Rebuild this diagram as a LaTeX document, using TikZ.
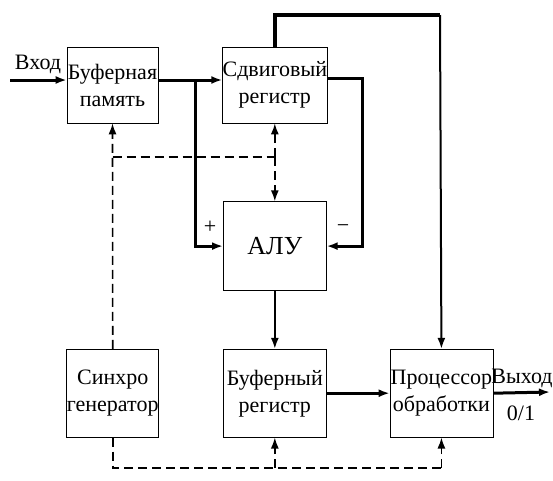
\documentclass[tikz,border=0pt]{standalone}
\usepackage{fontspec}
\setmainfont{Liberation Serif}
\usetikzlibrary{positioning,arrows.meta}

\begin{document}
\begin{tikzpicture}[x=1pt, y=-1pt,
    node distance=64pt,
    block/.style={rectangle, draw, semithick, minimum width=103pt, minimum height=88pt,
                  align=center, inner sep=0pt, font=\fontsize{22}{27}\selectfont},
    lbl/.style={font=\fontsize{22}{26}\selectfont, inner sep=0pt},
    bus/.style={->, line width=3pt},
    wire/.style={->, line width=2pt},
    sync/.style={->, line width=1.6pt, dash pattern=on 9pt off 5pt},
    syncline/.style={line width=1.6pt, dash pattern=on 9pt off 5pt},
    >={Latex[length=11pt,width=8pt]}
]
    \useasboundingbox (0,0) rectangle (553,480);

    \node[block, minimum width=91pt, minimum height=76pt] (bufmem) at (112.5,85) {Буферная\\память};
    \node[block, minimum height=76pt, right=64pt of bufmem] (shift) {Сдвиговый\\регистр};
    \node[block, minimum height=89pt, below=78pt of shift,
          font=\fontsize{26}{30}\selectfont] (alu) {АЛУ};
    \node[block, below=58pt of alu] (bufreg) {Буферный\\регистр};
    \node[block, minimum width=92pt, left=64pt of bufreg] (sync) {Синхро\\генератор};
    \node[block, right=63pt of bufreg] (proc) {Процессор\\обработки};

    \coordinate (in) at (10,80);
    \coordinate (split) at (195,80);
    \coordinate (top) at (440,15);
    \coordinate (fb) at (362,78);
    \coordinate (out) at (550,392);
    \coordinate (clk1) at (0,157);
    \coordinate (clk2) at (0,468);

    % data paths
    \draw[bus] (in) -- (bufmem.west |- in);
    \node[lbl] (inlbl) at (38,64) {Вход};
    \draw[bus] (bufmem.east |- in) -- (shift.west |- in);
    \draw[bus] (split) |- (alu.west);
    \node[lbl] (plus) at (210,227) {+};
    \draw[line width=3.5pt] (shift.north) |- (top);
    \draw[wire] (top) -- (proc.north);
    \draw[bus] (shift.east |- fb) -- (fb) |- (alu.east);
    \node[lbl] (minus) at (343,229) {\textminus};
    \draw[wire] (alu.south) -- (bufreg.north);
    \draw[bus] (bufreg.east) -- (proc.west);
    \draw[bus] (proc.east) -- (out);
    \node[lbl] (outlbl) at (522,378) {Выход};
    \node[lbl] (outval) at (521,413) {0/1};

    % clock
    \draw[sync] (sync.north) -- (bufmem.south);
    \draw[syncline] (sync.north |- clk1) -- (shift.south |- clk1);
    \draw[sync] (shift.south |- clk1) -- (shift.south);
    \draw[sync] (shift.south |- clk1) -- (alu.north);
    \draw[syncline] (sync.south) |- (proc.south |- clk2);
    \draw[sync] (proc.south |- clk2) -- (proc.south);
    \draw[sync] (bufreg.south |- clk2) -- (bufreg.south);
\end{tikzpicture}
\end{document}
